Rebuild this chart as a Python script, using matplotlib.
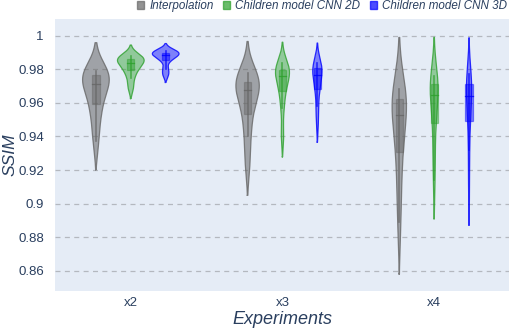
import numpy as np
import matplotlib.pyplot as plt
from matplotlib.patches import Patch, Rectangle

experiments = ['x2', 'x3', 'x4']
methods = ['Interpolation', 'Children model CNN 2D', 'Children model CNN 3D']

interp = [
    [0.937, 0.950, 0.958, 0.964, 0.970, 0.973, 0.975, 0.977, 0.978, 0.979],
    [0.924, 0.940, 0.951, 0.960, 0.966, 0.969, 0.971, 0.973, 0.975, 0.9775],
    [0.889, 0.912, 0.928, 0.940, 0.950, 0.956, 0.960, 0.963, 0.966, 0.968],
]
cnn2d = [
    [0.969, 0.975, 0.979, 0.981, 0.983, 0.985, 0.986, 0.986, 0.987, 0.988],
    [0.9405, 0.957, 0.966, 0.970, 0.975, 0.977, 0.979, 0.980, 0.981, 0.9835],
    [0.914, 0.930, 0.946, 0.955, 0.962, 0.967, 0.970, 0.972, 0.974, 0.976],
]
cnn3d = [
    [0.9765, 0.980, 0.985, 0.987, 0.988, 0.989, 0.9895, 0.990, 0.9905, 0.991],
    [0.9487, 0.958, 0.968, 0.970, 0.975, 0.978, 0.980, 0.981, 0.982, 0.9835],
    [0.909, 0.932, 0.947, 0.956, 0.962, 0.966, 0.969, 0.972, 0.975, 0.977],
]

colors = ['#666666', '#2ca02c', '#0000ff']
fill_alpha = [0.55, 0.45, 0.45]
offsets = [-0.23, 0.0, 0.23]
max_half = 0.088
box_half = 0.024
txt = '#2a3f5f'

plt.rcParams['font.family'] = ['Liberation Sans', 'DejaVu Sans']


def kde(data):
    d = np.asarray(data)
    n = len(d)
    q1, q3 = np.percentile(d, [25, 75])
    bw = 1.059 * min(d.std(ddof=1), (q3 - q1) / 1.349) * n ** -0.2
    ys = np.linspace(d.min() - 2 * bw, d.max() + 2 * bw, 300)
    dens = np.exp(-0.5 * ((ys[:, None] - d[None, :]) / bw) ** 2).sum(1)
    dens /= n * bw * np.sqrt(2 * np.pi)
    return ys, dens


fig = plt.figure(figsize=(5.1, 3.3), dpi=100)
ax = fig.add_axes([0.1078, 0.118, 0.8922, 0.8244])
ax.set_facecolor('#e5ecf6')

for k, series in enumerate([interp, cnn2d, cnn3d]):
    kdes = [kde(s) for s in series]
    top = max(dn.max() for _, dn in kdes)
    c = colors[k]
    for i, s in enumerate(series):
        x0 = i + offsets[k]
        ys, dn = kdes[i]
        hw = max_half * dn / top
        ax.fill_betweenx(ys, x0 - hw, x0 + hw, facecolor=c, alpha=fill_alpha[k],
                         edgecolor='none', zorder=2)
        ax.plot(np.r_[x0 - hw, (x0 + hw)[::-1], x0 - hw[0]],
                np.r_[ys, ys[::-1], ys[0]], color=c, lw=0.9, alpha=0.8, zorder=3)
        d = np.asarray(s)
        q1, med, q3 = np.percentile(d, [25, 50, 75])
        iqr = q3 - q1
        lo = d[d >= q1 - 1.5 * iqr].min()
        hi = d[d <= q3 + 1.5 * iqr].max()
        ax.plot([x0, x0], [lo, hi], color=c, lw=1.2, alpha=0.7, zorder=4)
        ax.add_patch(Rectangle((x0 - box_half, q1), 2 * box_half, q3 - q1,
                               facecolor=c, alpha=0.45, edgecolor=c, lw=0.9,
                               zorder=5))
        ax.plot([x0 - box_half, x0 + box_half], [med, med], color=c, lw=0.9,
                alpha=0.8, zorder=6)

ax.set_xlim(-0.5, 2.5)
ax.set_ylim(0.8479, 1.00995)
ax.set_xticks(range(len(experiments)))
ax.set_xticklabels(experiments)
yt = [0.86, 0.88, 0.9, 0.92, 0.94, 0.96, 0.98, 1.0]
ax.set_yticks(yt)
ax.set_yticklabels(['{:g}'.format(v) for v in yt])
ax.tick_params(length=0, labelsize=9.5, colors=txt)
ax.tick_params(axis='y', pad=8)
ax.tick_params(axis='x', pad=4)
ax.grid(axis='y', color='#b4b8bf', ls=(0, (4, 3.5)), lw=0.9)
ax.set_axisbelow(True)
for sp in ax.spines.values():
    sp.set_visible(False)

ax.set_xlabel('Experiments', fontsize=13, style='italic', color=txt, labelpad=2)
fig.text(10 / 510, 0.5 * (0.118 + 0.9424), 'SSIM', rotation=90, fontsize=12.5,
         style='italic', color=txt, ha='center', va='center')

handles = [Patch(facecolor=c, edgecolor=c, alpha=0.7) for c in colors]
fig.legend(handles, methods, loc='upper right', bbox_to_anchor=(0.996, 1.003),
           ncol=3, frameon=False, handlelength=0.6, handleheight=0.6,
           handletextpad=0.45, columnspacing=0.8, borderaxespad=0, borderpad=0.1,
           prop={'style': 'italic', 'size': 8.4}, labelcolor=txt)

fig.savefig('out.png', dpi=100)
